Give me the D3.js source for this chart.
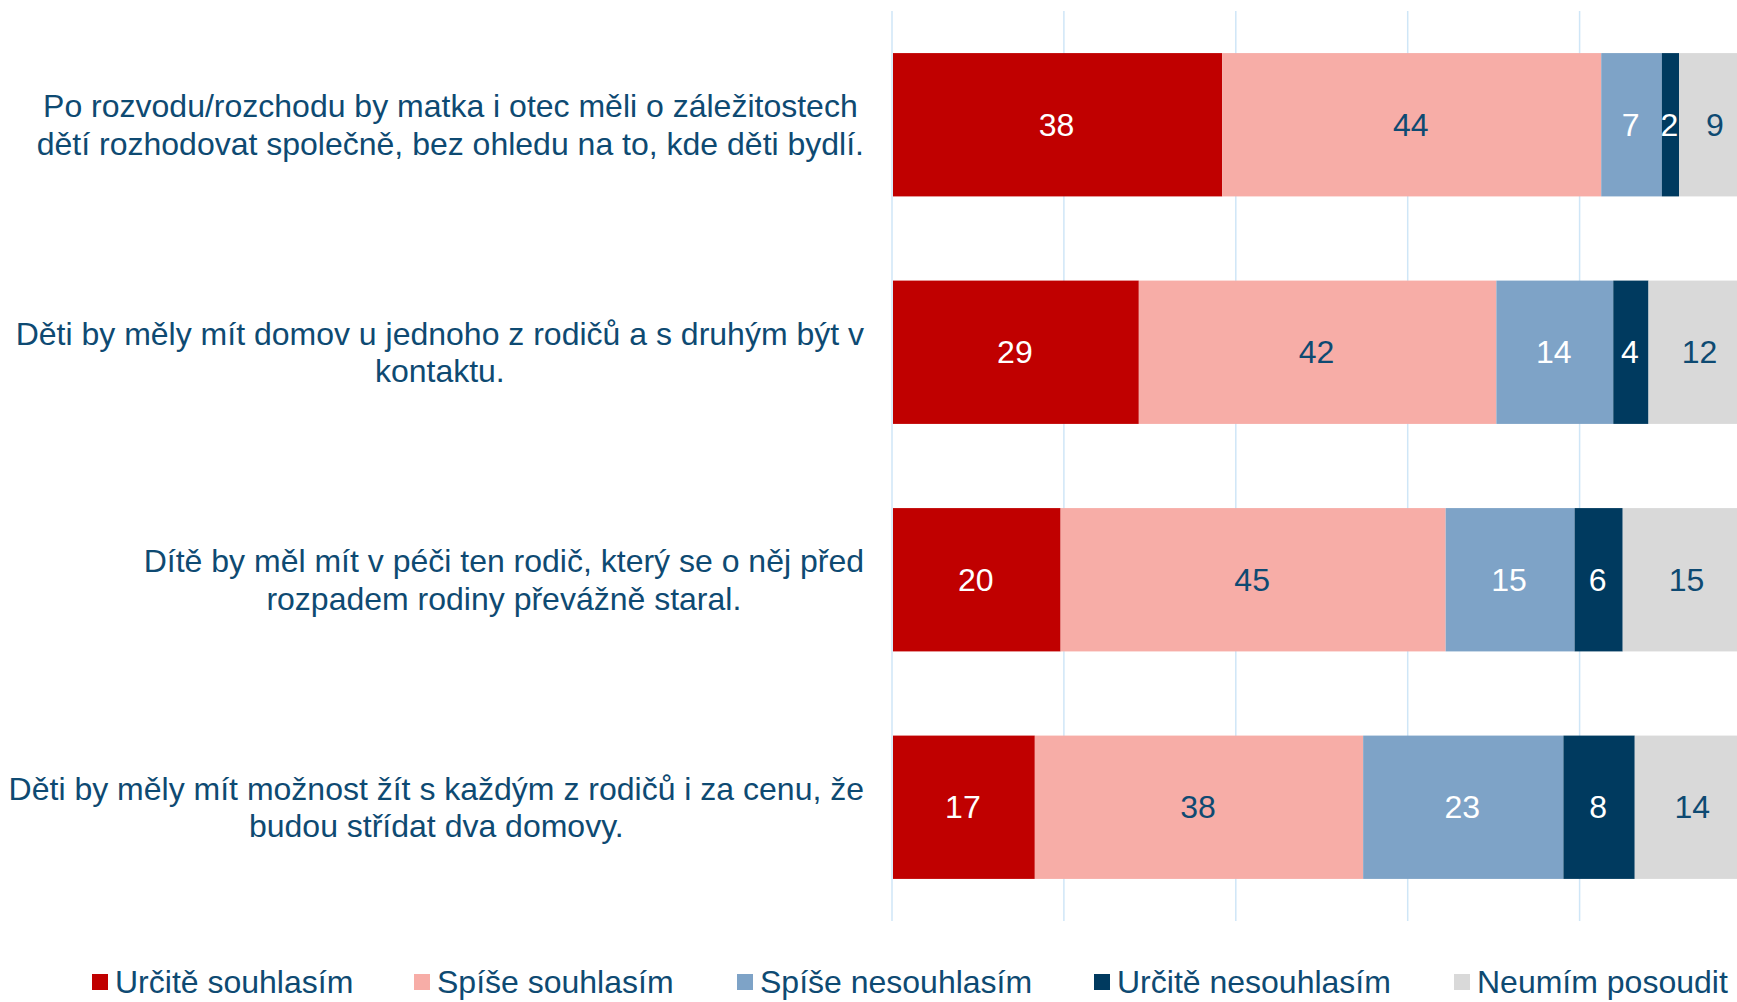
<!DOCTYPE html>
<html>
<head>
<meta charset="utf-8">
<script src="https://cdn.jsdelivr.net/npm/d3@7"></script>
<style>
  body { margin: 0; background: #fff; overflow: hidden; }
  svg { display: block; font-family: "Liberation Sans", Arial, sans-serif; }
</style>
</head>
<body>
<div id="chart"></div>
<script>
// Data (percent, labels show rounded values)
const categories = [
  ["Po rozvodu/rozchodu by matka i otec měli o záležitostech", "dětí rozhodovat společně, bez ohledu na to, kde děti bydlí."],
  ["Děti by měly mít domov u jednoho z rodičů a s druhým být v", "kontaktu."],
  ["Dítě by měl mít v péči ten rodič, který se o něj před", "rozpadem rodiny převážně staral."],
  ["Děti by měly mít možnost žít s každým z rodičů i za cenu, že", "budou střídat dva domovy."]
];
const seriesNames = ["Určitě souhlasím", "Spíše souhlasím", "Spíše nesouhlasím", "Určitě nesouhlasím", "Neumím posoudit"];
const urciteSouhlasim = [38.3, 28.6, 19.5, 16.5];
const spiseSouhlasim = [44.1, 41.6, 44.8, 38.2];
const spiseNesouhlasim = [7.05, 13.6, 15.0, 23.3];
const urciteNesouhlasim = [2.0, 4.1, 5.6, 8.3];
const neumimPosoudit = [8.6, 12.1, 15.1, 13.6];
const xTicks = [0, 20, 40, 60, 80, 100];

const colors = ["#C00000", "#F7ADA7", "#7EA3C7", "#003A5F", "#D9D9D9"];
const labelColors = ["#fff", "#0E4A72", "#fff", "#fff", "#0E4A72"];
const textColor = "#0E4A72";

const width = 1737, height = 1002;

const svg = d3.select("#chart")
    .append("svg")
    .attr("width", width)
    .attr("height", height);

// rows for the stack
const rows = categories.map((c, i) => ({
    key: i,
    values: [urciteSouhlasim[i], spiseSouhlasim[i], spiseNesouhlasim[i], urciteNesouhlasim[i], neumimPosoudit[i]]
}));
const stack = d3.stack()
    .keys(d3.range(seriesNames.length))
    .value((d, k) => d.values[k]);
const stacked = stack(rows);

// Scales (the 100% end runs past the right edge of the page)
const x = d3.scaleLinear().domain([0, 100]).range([892, 1751.5]);
const y = d3.scaleBand()
    .domain(d3.range(categories.length))
    .range([11, 921])
    .paddingInner(0.37)
    .paddingOuter(0.185);

// Gridlines
svg.append("g")
    .selectAll("line")
    .data(xTicks)
    .join("line")
    .attr("x1", d => x(d))
    .attr("x2", d => x(d))
    .attr("y1", 11)
    .attr("y2", 921)
    .attr("stroke", "#CFE6F7")
    .attr("stroke-width", 1.5);

// Bars
const layers = svg.append("g")
    .selectAll("g")
    .data(stacked)
    .join("g")
    .attr("fill", (d, i) => colors[i]);

layers.selectAll("rect")
    .data(d => d)
    .join("rect")
    .attr("x", d => x(d[0]) + 1)
    .attr("y", (d, i) => y(i))
    .attr("width", d => x(d[1]) - x(d[0]))
    .attr("height", y.bandwidth());

// Data labels
const labelLayers = svg.append("g")
    .selectAll("g")
    .data(stacked)
    .join("g")
    .attr("fill", (d, i) => labelColors[i]);

labelLayers.selectAll("text")
    .data(d => d)
    .join("text")
    .attr("x", d => x((d[0] + d[1]) / 2))
    .attr("y", (d, i) => y(i) + y.bandwidth() / 2)
    .attr("text-anchor", "middle")
    .attr("dy", "0.35em")
    .attr("font-size", 32)
    .text(d => Math.round(d[1] - d[0]));

// Category labels, each block centred with its right edge at labelRight
const labelRight = 864;
const lineGap = 37.6;
categories.forEach((lines, i) => {
    const g = svg.append("g");
    const cy = y(i) + y.bandwidth() / 2;
    const texts = lines.map((line, j) => g.append("text")
        .attr("y", cy + (j - (lines.length - 1) / 2) * lineGap)
        .attr("dy", "0.35em")
        .attr("text-anchor", "middle")
        .attr("font-size", 32)
        .attr("fill", textColor)
        .text(line));
    const maxW = d3.max(texts, t => t.node().getComputedTextLength());
    texts.forEach(t => t.attr("x", labelRight - maxW / 2));
});

// Legend
const legendX = [92, 414, 737, 1094, 1454];
const legend = svg.append("g")
    .selectAll("g")
    .data(seriesNames)
    .join("g")
    .attr("transform", (d, i) => `translate(${legendX[i]},982)`);

legend.append("rect")
    .attr("x", 0)
    .attr("y", -8)
    .attr("width", 16)
    .attr("height", 16)
    .attr("fill", (d, i) => colors[i]);

legend.append("text")
    .attr("x", 23)
    .attr("dy", "0.35em")
    .attr("font-size", 32)
    .attr("fill", textColor)
    .text(d => d);
</script>
</body>
</html>
